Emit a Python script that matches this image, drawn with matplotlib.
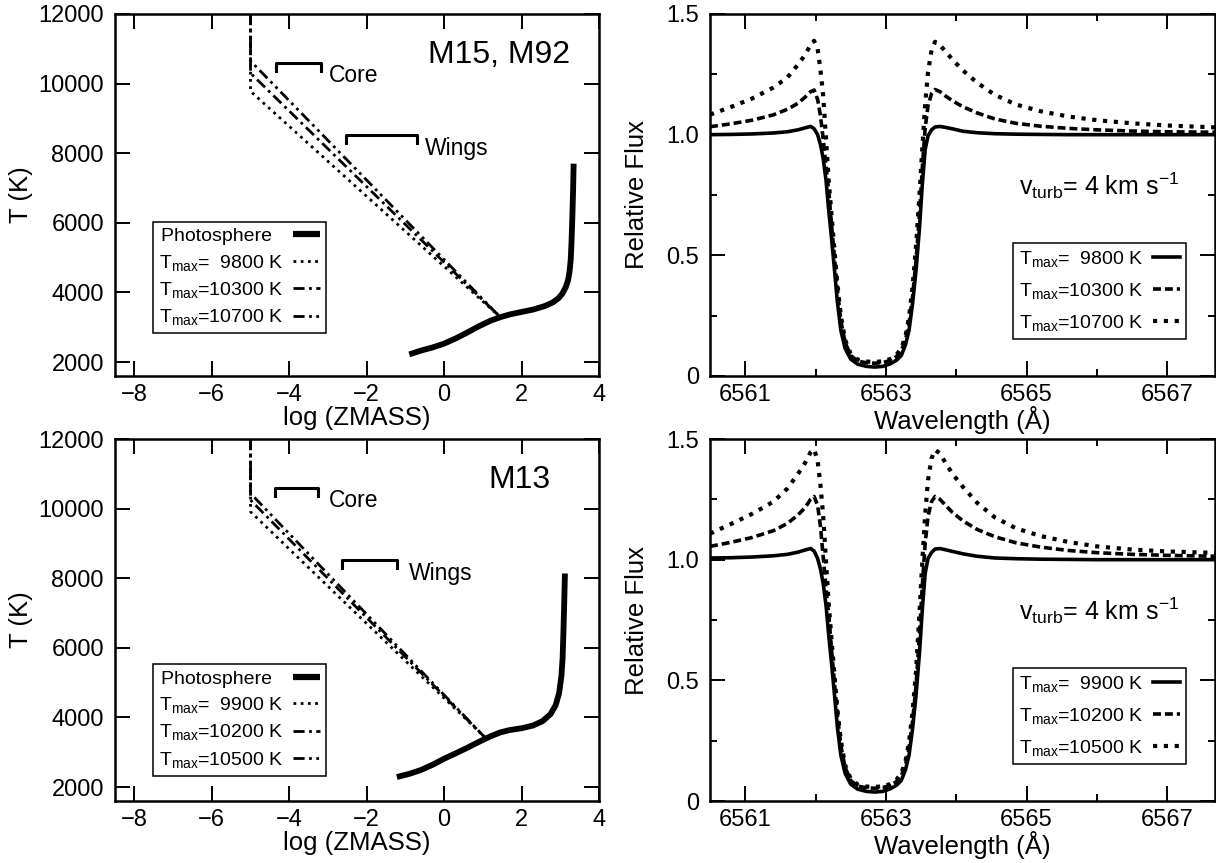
import matplotlib
matplotlib.use("Agg")
import matplotlib.pyplot as plt
from matplotlib.lines import Line2D

plt.rcParams['font.family'] = ['Liberation Sans', 'DejaVu Sans']
plt.rcParams['mathtext.fontset'] = 'custom'
plt.rcParams['mathtext.rm'] = 'Liberation Sans'
plt.rcParams['mathtext.it'] = 'Liberation Sans:italic'
plt.rcParams['mathtext.sf'] = 'Liberation Sans'

# ---------------- Data: temperature structure (left panels) ----------------
# M15, M92
phot1_logz = [-0.90, -0.60, -0.30, 0.00, 0.30, 0.60, 0.90, 1.20, 1.45, 1.70, 2.00, 2.30,
              2.60, 2.80, 2.95, 3.05, 3.14, 3.20, 3.24, 3.27, 3.29, 3.31, 3.33, 3.345]
phot1_T = [2220, 2330, 2420, 2530, 2680, 2850, 3030, 3190, 3290, 3370, 3440, 3510,
           3610, 3710, 3830, 3960, 4150, 4350, 4600, 4950, 5450, 6100, 6900, 7700]
chrom1_labels = ['T$_{\\rm max}$=  9800 K', 'T$_{\\rm max}$=10300 K', 'T$_{\\rm max}$=10700 K']
chrom1_logz = [[-5.0, -5.0, 1.45], [-5.0, -5.0, 1.45], [-5.0, -5.0, 1.45]]
chrom1_T = [[12000, 9780, 3290], [12000, 10300, 3290], [12000, 10650, 3290]]

# M13
phot2_logz = [-1.22, -0.90, -0.60, -0.30, 0.00, 0.30, 0.60, 0.90, 1.20, 1.45, 1.70, 2.00,
              2.30, 2.55, 2.75, 2.88, 2.97, 3.03, 3.06, 3.08, 3.10, 3.12]
phot2_T = [2288, 2380, 2490, 2640, 2815, 2970, 3130, 3300, 3460, 3570, 3640, 3690,
           3770, 3900, 4100, 4350, 4700, 5200, 5700, 6400, 7200, 8136]
chrom2_labels = ['T$_{\\rm max}$=  9900 K', 'T$_{\\rm max}$=10200 K', 'T$_{\\rm max}$=10500 K']
chrom2_logz = [[-5.0, -5.0, 1.06], [-5.0, -5.0, 1.06], [-5.0, -5.0, 1.06]]
chrom2_T = [[12000, 9910, 3420], [12000, 10245, 3420], [12000, 10437, 3420]]

# ---------------- Data: H-alpha profiles (right panels) ----------------
wl = [6560.5, 6560.8, 6561.1, 6561.4, 6561.6, 6561.75, 6561.85, 6561.93, 6561.98, 6562.03,
      6562.07, 6562.11, 6562.15, 6562.19, 6562.23, 6562.27, 6562.31, 6562.36, 6562.42, 6562.5,
      6562.6, 6562.72, 6562.84, 6562.96, 6563.06, 6563.15, 6563.22, 6563.28, 6563.33, 6563.38,
      6563.43, 6563.48, 6563.52, 6563.56, 6563.6, 6563.65, 6563.7, 6563.77, 6563.85, 6563.95,
      6564.1, 6564.3, 6564.55, 6564.85, 6565.2, 6565.6, 6566.0, 6566.5, 6567.0, 6567.7]

flux1_a = [1.000, 1.001, 1.003, 1.007, 1.012, 1.020, 1.028, 1.034, 1.025, 1.000,
           0.960, 0.900, 0.810, 0.680, 0.565, 0.440, 0.310, 0.190, 0.115, 0.070,
           0.049, 0.040, 0.037, 0.040, 0.050, 0.065, 0.085, 0.130, 0.190, 0.300,
           0.440, 0.620, 0.800, 0.940, 0.995, 1.020, 1.032, 1.034, 1.030, 1.024,
           1.014, 1.008, 1.004, 1.002, 1.001, 1.000, 1.000, 1.000, 1.000, 1.000]
flux1_b = [1.033, 1.045, 1.060, 1.082, 1.105, 1.130, 1.155, 1.178, 1.185, 1.146,
           1.080, 0.980, 0.870, 0.760, 0.620, 0.490, 0.360, 0.230, 0.140, 0.085,
           0.062, 0.055, 0.053, 0.056, 0.064, 0.080, 0.105, 0.150, 0.220, 0.330,
           0.480, 0.680, 0.870, 1.030, 1.120, 1.170, 1.187, 1.178, 1.160, 1.140,
           1.115, 1.090, 1.065, 1.047, 1.035, 1.026, 1.020, 1.015, 1.012, 1.010]
flux1_c = [1.083, 1.115, 1.150, 1.195, 1.237, 1.290, 1.330, 1.372, 1.389, 1.355,
           1.270, 1.160, 0.980, 0.800, 0.660, 0.520, 0.385, 0.250, 0.150, 0.092,
           0.068, 0.060, 0.058, 0.061, 0.070, 0.088, 0.115, 0.165, 0.245, 0.370,
           0.540, 0.760, 0.950, 1.130, 1.260, 1.350, 1.385, 1.370, 1.345, 1.310,
           1.265, 1.215, 1.165, 1.125, 1.097, 1.075, 1.060, 1.047, 1.038, 1.030]
labels1 = ['T$_{\\rm max}$=  9800 K', 'T$_{\\rm max}$=10300 K', 'T$_{\\rm max}$=10700 K']

flux2_a = [1.007, 1.008, 1.011, 1.016, 1.022, 1.031, 1.040, 1.046, 1.036, 1.005,
           0.962, 0.900, 0.810, 0.680, 0.565, 0.440, 0.310, 0.190, 0.115, 0.070,
           0.049, 0.040, 0.037, 0.040, 0.050, 0.065, 0.085, 0.130, 0.190, 0.300,
           0.440, 0.620, 0.800, 0.945, 1.005, 1.030, 1.044, 1.046, 1.041, 1.034,
           1.024, 1.014, 1.007, 1.004, 1.002, 1.001, 1.000, 1.000, 1.000, 1.000]
flux2_b = [1.055, 1.072, 1.092, 1.120, 1.150, 1.185, 1.215, 1.250, 1.262, 1.225,
           1.140, 1.010, 0.880, 0.765, 0.620, 0.490, 0.360, 0.230, 0.140, 0.085,
           0.062, 0.055, 0.053, 0.056, 0.064, 0.080, 0.105, 0.150, 0.220, 0.330,
           0.480, 0.700, 0.900, 1.070, 1.180, 1.240, 1.262, 1.250, 1.225, 1.195,
           1.160, 1.125, 1.095, 1.070, 1.052, 1.038, 1.029, 1.022, 1.018, 1.014]
flux2_c = [1.108, 1.148, 1.190, 1.240, 1.295, 1.355, 1.400, 1.445, 1.458, 1.410,
           1.310, 1.180, 0.990, 0.810, 0.660, 0.520, 0.385, 0.250, 0.150, 0.092,
           0.068, 0.060, 0.058, 0.061, 0.070, 0.088, 0.115, 0.165, 0.245, 0.370,
           0.540, 0.790, 1.000, 1.190, 1.330, 1.420, 1.455, 1.440, 1.400, 1.355,
           1.300, 1.235, 1.175, 1.130, 1.098, 1.073, 1.055, 1.042, 1.034, 1.028]
labels2 = ['T$_{\\rm max}$=  9900 K', 'T$_{\\rm max}$=10200 K', 'T$_{\\rm max}$=10500 K']

# ---------------- Layout / styling ----------------
W, H = 1216, 863
fig = plt.figure(figsize=(W / 100, H / 100), dpi=100)


def rect(x0, y0, x1, y1):
    return [x0 / W, 1 - y1 / H, (x1 - x0) / W, (y1 - y0) / H]


ax_tl = fig.add_axes(rect(115, 14, 599, 376))
ax_bl = fig.add_axes(rect(115, 439, 599, 801))
ax_tr = fig.add_axes(rect(710, 14, 1215, 376))
ax_br = fig.add_axes(rect(710, 439, 1215, 801))

chrom_styles = [(0, (1, 1.6)), (0, (4, 1.6, 1, 1.6)), (0, (4, 1.6, 1, 1.6, 1, 1.6))]
spec_styles = ['-', (0, (2.2, 1.1)), (0, (1, 1.6))]
spec_lw = [2.6, 2.6, 3.0]

LEG_KW = dict(loc='upper left', markerfirst=False, fontsize=14, handlelength=1.4,
              handletextpad=0.5, borderpad=0.3, borderaxespad=0,
              fancybox=False, framealpha=1, edgecolor='black')


def style_axes(ax):
    for s in ax.spines.values():
        s.set_linewidth(1.8)
    ax.tick_params(which='both', direction='in', top=True, right=True,
                   labelsize=17, width=1.4)
    ax.tick_params(axis='x', which='both', pad=6)
    ax.tick_params(axis='y', which='both', pad=8)
    ax.tick_params(which='major', length=11)
    ax.tick_params(which='minor', length=5)


def left_panel(ax, plogz, pT, clogz, cT, clabels, title, title_x, brackets, leg_y):
    ax.plot(plogz, pT, color='black', lw=4.2, solid_capstyle='butt')
    for xz, tt, ls in zip(clogz, cT, chrom_styles):
        ax.plot(xz, tt, color='black', lw=2.0, linestyle=ls)
    ax.set_xlim(-8.5, 4)
    ax.set_ylim(1600, 12000)
    ax.set_xticks([-8, -6, -4, -2, 0, 2, 4])
    ax.set_xticklabels(['\u22128', '\u22126', '\u22124', '\u22122', '0', '2', '4'])
    ax.set_yticks([2000, 4000, 6000, 8000, 10000, 12000])
    style_axes(ax)
    ax.set_xlabel('log (ZMASS)', fontsize=18.5, labelpad=0)
    ax.set_ylabel('T (K)', fontsize=18.5, labelpad=4)
    ax.text(title_x, 10820, title, fontsize=23, ha='right', va='center')
    for (x0, x1, yb, tx, txt) in brackets:
        ax.plot([x0, x0, x1, x1], [yb - 240, yb, yb, yb - 240], color='black', lw=2.2)
        ax.text(tx, yb - 380, txt, fontsize=16.5, ha='left', va='center')
    handles = [Line2D([], [], color='black', lw=4.5, solid_capstyle='butt')] + \
              [Line2D([], [], color='black', lw=2.0, linestyle=ls) for ls in chrom_styles]
    labs = ['Photosphere  '] + clabels
    leg = ax.legend(handles, labs, bbox_to_anchor=(0.0785, leg_y), labelspacing=0.38, **LEG_KW)
    leg.get_frame().set_linewidth(1.1)


left_panel(ax_tl, phot1_logz, phot1_T, chrom1_logz, chrom1_T, chrom1_labels,
           'M15, M92', 3.25,
           [(-4.34, -3.17, 10600, -2.98, 'Core'), (-2.53, -0.69, 8520, -0.49, 'Wings')],
           0.426)
left_panel(ax_bl, phot2_logz, phot2_T, chrom2_logz, chrom2_T, chrom2_labels,
           'M13', 2.75,
           [(-4.37, -3.25, 10600, -2.98, 'Core'), (-2.65, -1.22, 8520, -0.90, 'Wings')],
           0.378)


def right_panel(ax, fluxes, labels):
    for f, ls, lw, lab in zip(fluxes, spec_styles, spec_lw, labels):
        ax.plot(wl, f, color='black', linestyle=ls, lw=lw, label=lab)
    ax.set_xlim(6560.5, 6567.68)
    ax.set_ylim(0, 1.5)
    ax.set_xticks([6561, 6563, 6565, 6567])
    ax.set_xticks([6562, 6564, 6566], minor=True)
    ax.set_yticks([0, 0.5, 1.0, 1.5])
    ax.set_yticklabels(['0', '0.5', '1.0', '1.5'])
    ax.set_yticks([0.25, 0.75, 1.25], minor=True)
    style_axes(ax)
    ax.set_xlabel('Wavelength (\u00c5)', fontsize=18.5, labelpad=0)
    ax.set_ylabel('Relative Flux', fontsize=18.5, labelpad=12)
    ax.text(6564.9, 0.79, r'v$_{\rm turb}$= 4 km s$^{-1}$', fontsize=18, ha='left', va='center')
    handles = [Line2D([], [], color='black', lw=w, linestyle=s) for s, w in zip(spec_styles, spec_lw)]
    leg = ax.legend(handles, labels, bbox_to_anchor=(0.600, 0.367), labelspacing=0.62, **LEG_KW)
    leg.get_frame().set_linewidth(1.1)


right_panel(ax_tr, [flux1_a, flux1_b, flux1_c], labels1)
right_panel(ax_br, [flux2_a, flux2_b, flux2_c], labels2)

fig.savefig('out.png', dpi=100)
